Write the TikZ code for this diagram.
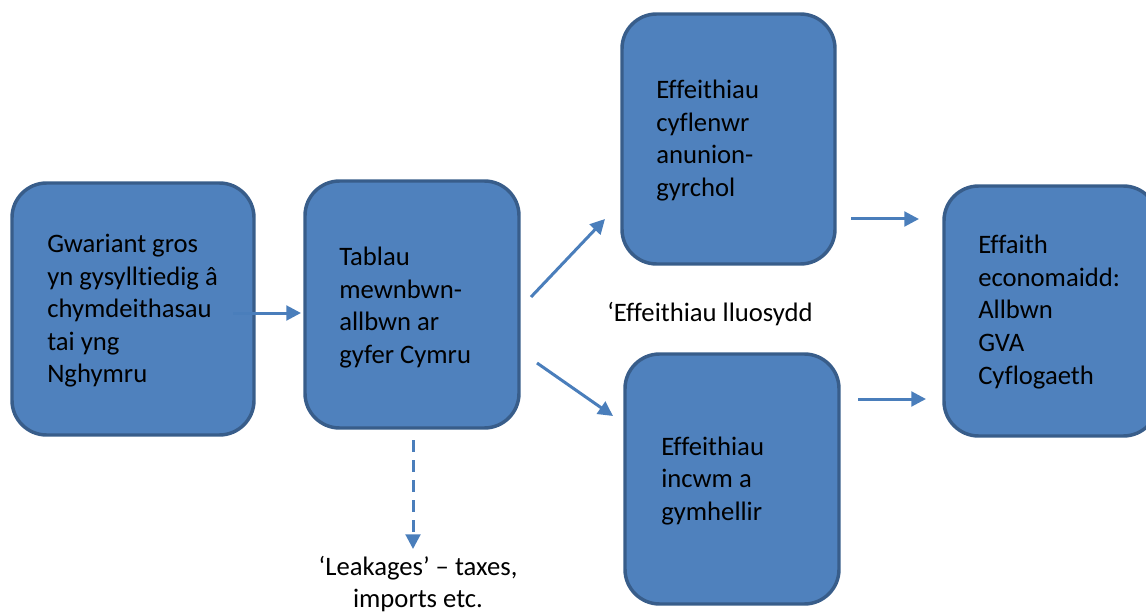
\documentclass[tikz,border=0pt]{standalone}
\usepackage{fontspec}
\setmainfont{Carlito}[Ligatures={NoCommon}]
\usetikzlibrary{arrows.meta}
\definecolor{boxfill}{HTML}{4F81BD}
\definecolor{boxline}{HTML}{385D8A}
\definecolor{arr}{HTML}{4A7EBB}
\begin{document}
\begin{tikzpicture}[x=0.75pt,y=-0.75pt,
  box/.style={draw=boxline,fill=boxfill,line width=2.6pt,rounded corners=26pt,inner sep=0pt},
  txt/.style={anchor=west,align=left,inner sep=0pt,font=\fontsize{20}{24.4}\selectfont},
  conn/.style={draw=arr,line width=2.25pt,-{Triangle[length=11pt,width=11pt]}}
]
\useasboundingbox (0,0) rectangle (1146,613);
\node[box,minimum width=181.5pt,minimum height=189pt] (b1) at (133,309) {};
\node[box,minimum width=160.5pt,minimum height=185.25pt] (b2) at (412,304.5) {};
\node[box,minimum width=159.75pt,minimum height=187.5pt] (b3) at (728.5,139) {};
\node[box,minimum width=160.5pt,minimum height=187.5pt] (b4) at (732,479) {};
\node[box,minimum width=160.5pt,minimum height=187.5pt] (b5) at (1051,311) {};

\node[txt] (t1) at (47,311) {Gwariant gros\\yn gysylltiedig â\\chymdeithasau\\tai yng\\Nghymru};
\node[txt] (t2) at (339,307.5) {Tablau\\mewnbwn-\\allbwn ar\\gyfer Cymru};
\node[txt] (t3) at (656,140.5) {Effeithiau\\cyflenwr\\anunion-\\gyrchol};
\node[txt] (t4) at (661,481) {Effeithiau\\incwm a\\gymhellir};
\node[txt] (t5) at (978,312) {Effaith\\economaidd:\\Allbwn\\GVA\\Cyflogaeth};
\node[txt] (lm) at (607,314) {‘Effeithiau lluosydd};
\node[txt,anchor=center,align=center] (lk) at (418,584) {‘Leakages’ – taxes,\\imports etc.};

\coordinate (a1s) at (233,313); \coordinate (a1e) at (301,313);
\coordinate (dss) at (413,440); \coordinate (dse) at (413,549);
\coordinate (ups) at (531,297); \coordinate (upe) at (605,219);
\coordinate (dns) at (537,363); \coordinate (dne) at (613,416);
\coordinate (r1s) at (851,219); \coordinate (r1e) at (919,219);
\coordinate (r2s) at (858,399); \coordinate (r2e) at (926,399);

\draw[conn] (a1s) -- (a1e);
\draw[conn,dash pattern=on 9pt off 6pt] (dss) -- (dse);
\draw[conn] (ups) -- (upe);
\draw[conn] (dns) -- (dne);
\draw[conn] (r1s) -- (r1e);
\draw[conn] (r2s) -- (r2e);
\end{tikzpicture}
\end{document}
